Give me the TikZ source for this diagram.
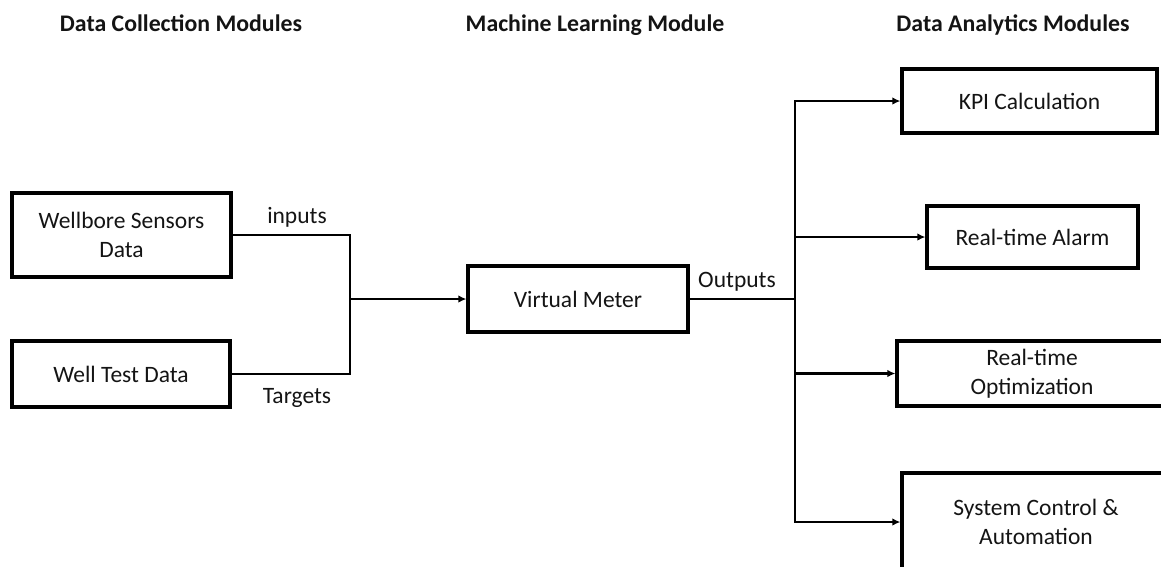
\documentclass[tikz,border=0pt]{standalone}
\usepackage{fontspec}
\setmainfont{Carlito}
\usetikzlibrary{arrows.meta}
\begin{document}
\begin{tikzpicture}[x=1pt,y=-1pt,
  txt/.style={font=\fontsize{23.5}{29}\selectfont, text=black!92},
  box/.style={draw, line width=3.2pt, inner sep=0pt, align=center, txt},
  lbl/.style={inner sep=0pt, anchor=base, txt},
  head/.style={inner sep=0pt, anchor=base, font=\fontsize{23.8}{29}\selectfont\bfseries, text=black!92},
  link/.style={line width=2.9pt},
  arr/.style={link, -{Latex[length=8pt,width=7.5pt]}}]
  % page frame
  \path[use as bounding box] (0,0) rectangle (1161,566);
  \clip (0,0) rectangle (1161,566);

  % column headings
  \node[head] (h1) at (181,31) {Data Collection Modules};
  \node[head] (h2) at (595,31) {Machine Learning Module};
  \node[head] (h3) at (1013,31) {Data Analytics Modules};

  % data collection
  \node[box, minimum width=219pt, minimum height=84pt] (ws) at (121.5,235) {Wellbore Sensors\\Data};
  \node[box, minimum width=218pt, minimum height=66pt] (wt) at (121,374) {Well Test Data};

  % machine learning
  \node[box, minimum width=220pt, minimum height=66pt] (vm) at (578,299) {Virtual Meter};

  % data analytics
  \node[box, minimum width=255pt, minimum height=64pt] (kpi) at (1029.5,101) {KPI Calculation};
  \node[box, minimum width=211pt, minimum height=62pt] (alarm) at (1032.5,237) {Real-time Alarm};
  \node[box, minimum width=270pt, minimum height=65pt] (opt) at (1032,373.5) {Real-time\\Optimization};
  \node[box, minimum width=268pt, minimum height=98pt] (sys) at (1036,522) {System Control \&\\Automation};

  % junctions
  \coordinate (jin) at (350,299);
  \coordinate (jout) at (795,299);

  % inputs and targets merge into the meter
  \draw[link] (ws.east) -| (jin);
  \draw[link] (wt.east) -| (jin);
  \draw[arr] (jin) -- (vm.west);

  % outputs fan out to the analytics modules
  \draw[link] (vm.east) -- (jout);
  \draw[arr] (jout) |- (kpi.west);
  \draw[arr] (jout) |- (alarm.west);
  \draw[arr] (jout) |- (opt.west);
  \draw[arr] (jout) |- (sys.west);

  % connector labels
  \node[lbl] (lin) at (297,223) {inputs};
  \node[lbl] (ltg) at (297,403) {Targets};
  \node[lbl] (lout) at (737,287) {Outputs};
\end{tikzpicture}
\end{document}
